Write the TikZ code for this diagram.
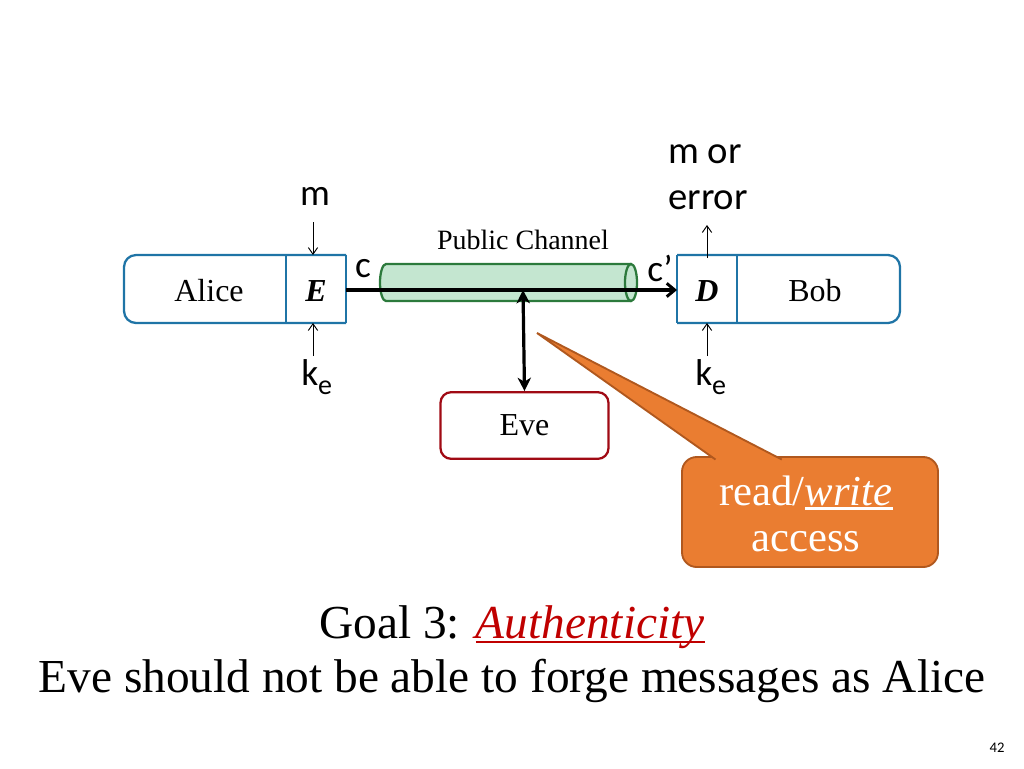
\documentclass[tikz,border=0pt]{standalone}
\usepackage{fontspec}
\setmainfont{Liberation Serif}
\newfontfamily\calib{Carlito}
\usetikzlibrary{arrows.meta}
\newcommand\myul[1]{\setbox0=\hbox{#1}\rlap{\rule[-0.1em]{\wd0}{0.05em}}\box0}
\newcommand\kesub{k\raisebox{-7pt}{\fontsize{21}{22}\selectfont e}}
\definecolor{boxblue}{RGB}{31,116,166}
\definecolor{evered}{RGB}{160,10,20}
\definecolor{chgreen}{RGB}{44,122,60}
\definecolor{chfill}{RGB}{196,230,208}
\definecolor{orfill}{RGB}{234,125,49}
\definecolor{ordraw}{RGB}{176,88,30}
\definecolor{goalred}{RGB}{192,0,0}
\tikzset{
  pbox/.style={draw=boxblue, line width=1.7pt, fill=white},
  thin arrow/.style={-{Straight Barb[length=5pt,width=7pt]}, line width=0.7pt},
  thick arrow/.style={-{Straight Barb[length=6pt,width=10pt,line width=2.2pt]}, line width=2.4pt},
  lbl/.style={font=\calib\fontsize{28}{30}\selectfont, inner sep=0pt},
  serif/.style={font=\fontsize{24}{26}\selectfont, inner sep=0pt},
  callout/.style={fill=orfill, draw=ordraw, line width=1.4pt},
}
\begin{document}
\begin{tikzpicture}[x=0.75pt,y=-0.75pt]
\useasboundingbox (0,0) rectangle (1024,768);
% Alice box
\draw[pbox, rounded corners=9pt] (346,255) -- (124,255) -- (124,323) -- (346,323);
\draw[draw=boxblue, line width=1.7pt] (346,255) -- (346,323);
\draw[draw=boxblue, line width=1.7pt] (286,255) -- (286,323);
\coordinate (Eright) at (346,290);
\node[serif] (alice) at (209,291) {Alice};
\node[serif] (Elab) at (316,291) {\textbf{\textit{E}}};
% Bob box
\draw[pbox, rounded corners=9pt] (677,255) -- (900,255) -- (900,323) -- (677,323);
\draw[draw=boxblue, line width=1.7pt] (677,255) -- (677,323);
\draw[draw=boxblue, line width=1.7pt] (737,255) -- (737,323);
\coordinate (Dleft) at (677,290);
\node[serif] (Dlab) at (707,291) {\textbf{\textit{D}}};
\node[serif] (bob) at (815,291) {Bob};
% channel cylinder
\draw[draw=chgreen, fill=chfill, line width=1.7pt]
  (631,264) -- (386,264) arc[start angle=90, end angle=270, x radius=4.5pt, y radius=13.9pt] -- (631,301);
\draw[draw=chgreen, fill=chfill, line width=1.7pt] (631,282.5) ellipse[x radius=4.5pt, y radius=13.9pt];
\node[font=\fontsize{21}{23}\selectfont, inner sep=0pt] (pc) at (523,240) {Public Channel};
% main arrow
\draw[thick arrow] (Eright) -- (Dleft);
\node[lbl] (c) at (363,269) {c};
\node[lbl] (cp) at (660,268) {c’};
% Eve
\node[draw=evered, line width=1.7pt, rounded corners=8pt, minimum width=126pt, minimum height=50pt, inner sep=0pt, font=\fontsize{24}{26}\selectfont] (eve) at (524.5,425.5) {Eve};
\coordinate (tap) at (523,290);
\draw[{Stealth[length=10pt,width=10pt,inset=3pt]}-{Stealth[length=10pt,width=10pt,inset=3pt]}, line width=2.4pt] (tap) -- (eve.north);
% inputs
\node[lbl] (m) at (315,196) {m};
\coordinate (mtop) at (313,222);
\draw[thin arrow] (mtop) -- (313,255);
\node[lbl, anchor=west] (ke1) at (301,377) {\kesub};
\coordinate (ke1top) at (313,356);
\draw[thin arrow] (ke1top) -- (313,323);
\node[lbl, align=left, font=\calib\fontsize{29}{34.5}\selectfont] (out) at (708,177) {m or\\error};
\coordinate (obot) at (707,258);
\draw[thin arrow] (obot) -- (707,225);
\node[lbl, anchor=west] (ke2) at (695,377) {\kesub};
\coordinate (ke2top) at (707,356);
\draw[thin arrow] (ke2top) -- (707,323);
% callout
\draw[callout, rounded corners=11pt] (682,457) rectangle (938,567);
\draw[callout] (715.5,459.5) -- (537,333) -- (781.8,459.5);
\node[align=center, text=white, font=\fontsize{32}{35}\selectfont, inner sep=0pt] (call) at (806,514) {read/\myul{\textit{write}}\\access};
% goal text
\node[font=\fontsize{35.5}{40}\selectfont, inner sep=0pt] (goal) at (512,627) {Goal 3: \textcolor{goalred}{\myul{\textit{Authenticity}}}};
\node[font=\fontsize{35.5}{40}\selectfont, inner sep=0pt] (line) at (512,681) {Eve should not be able to forge messages as Alice};
\node[font=\calib\fontsize{11}{12}\selectfont, inner sep=0pt] (pg) at (997,748) {42};
\end{tikzpicture}
\end{document}
